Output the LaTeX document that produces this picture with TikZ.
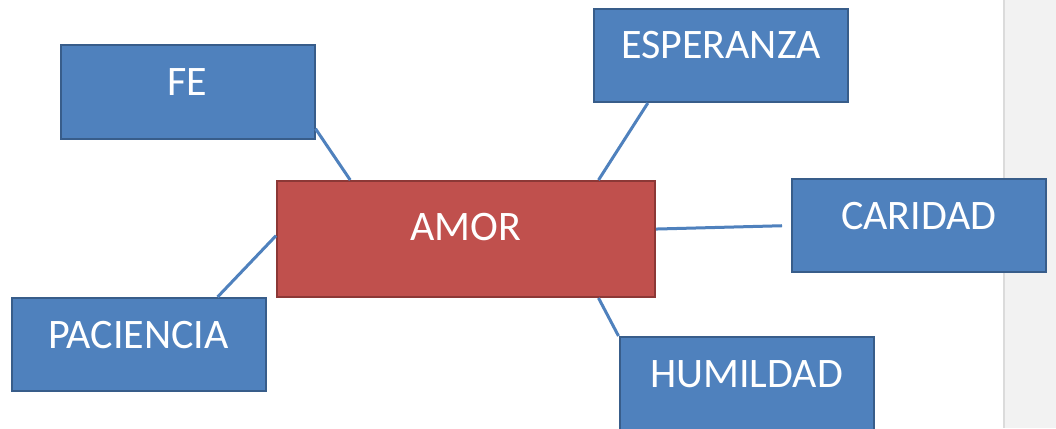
\documentclass[tikz,border=0pt]{standalone}
\usepackage{fontspec}
\setmainfont{Carlito}
\usepackage{tikz}
\definecolor{azul}{HTML}{4F81BD}
\definecolor{azulborde}{HTML}{385D8A}
\definecolor{rojo}{HTML}{C0504D}
\definecolor{rojoborde}{HTML}{8C3836}
\tikzstyle{virtud} = [rectangle, minimum width=254pt, minimum height=93pt, inner sep=0pt,
text height=50pt, text depth=43pt, text centered, text=white, draw=azulborde, line width=2pt, fill=azul,
font=\fontsize{42}{50}\selectfont]
\tikzstyle{centro} = [rectangle, minimum width=378pt, minimum height=116pt, inner sep=0pt,
text height=59pt, text depth=57pt, text centered, text=white, draw=rojoborde, line width=2pt, fill=rojo,
font=\fontsize{42}{50}\selectfont]
\tikzstyle{line} = [draw=azul, line width=3pt]

\begin{document}
\begin{tikzpicture}[x=1pt, y=-1pt]
      \useasboundingbox (0,0) rectangle (1056,428);
      \fill [white] (0,0) rectangle (1056,428);
      \fill [black!5] (1004,0) rectangle (1056,428);
      \draw [black!14, line width=1.5pt] (1004,0) -- (1004,428);

      \node (amor) [centro] at (466,239) {AMOR};
      \node (fe) [virtud] at (187.5,92) {FE};
      \node (esp) [virtud] at (721,55.5) {ESPERANZA};
      \node (car) [virtud] at (919,225.5) {CARIDAD};
      \node (pac) [virtud] at (138.5,344.5) {PACIENCIA};
      \node (hum) [virtud] at (746.5,383.5) {HUMILDAD};

      \draw [line] (fe.-16) -- (amor.153);
      \draw [line] (esp.-147) -- (amor.24);
      \draw [line, shorten >=9pt] (amor.3) -- (car.west);
      \draw [line] (amor.179) -- (pac.31);
      \draw [line] (amor.-24) -- (hum.north west);
    \end{tikzpicture}
\end{document}
